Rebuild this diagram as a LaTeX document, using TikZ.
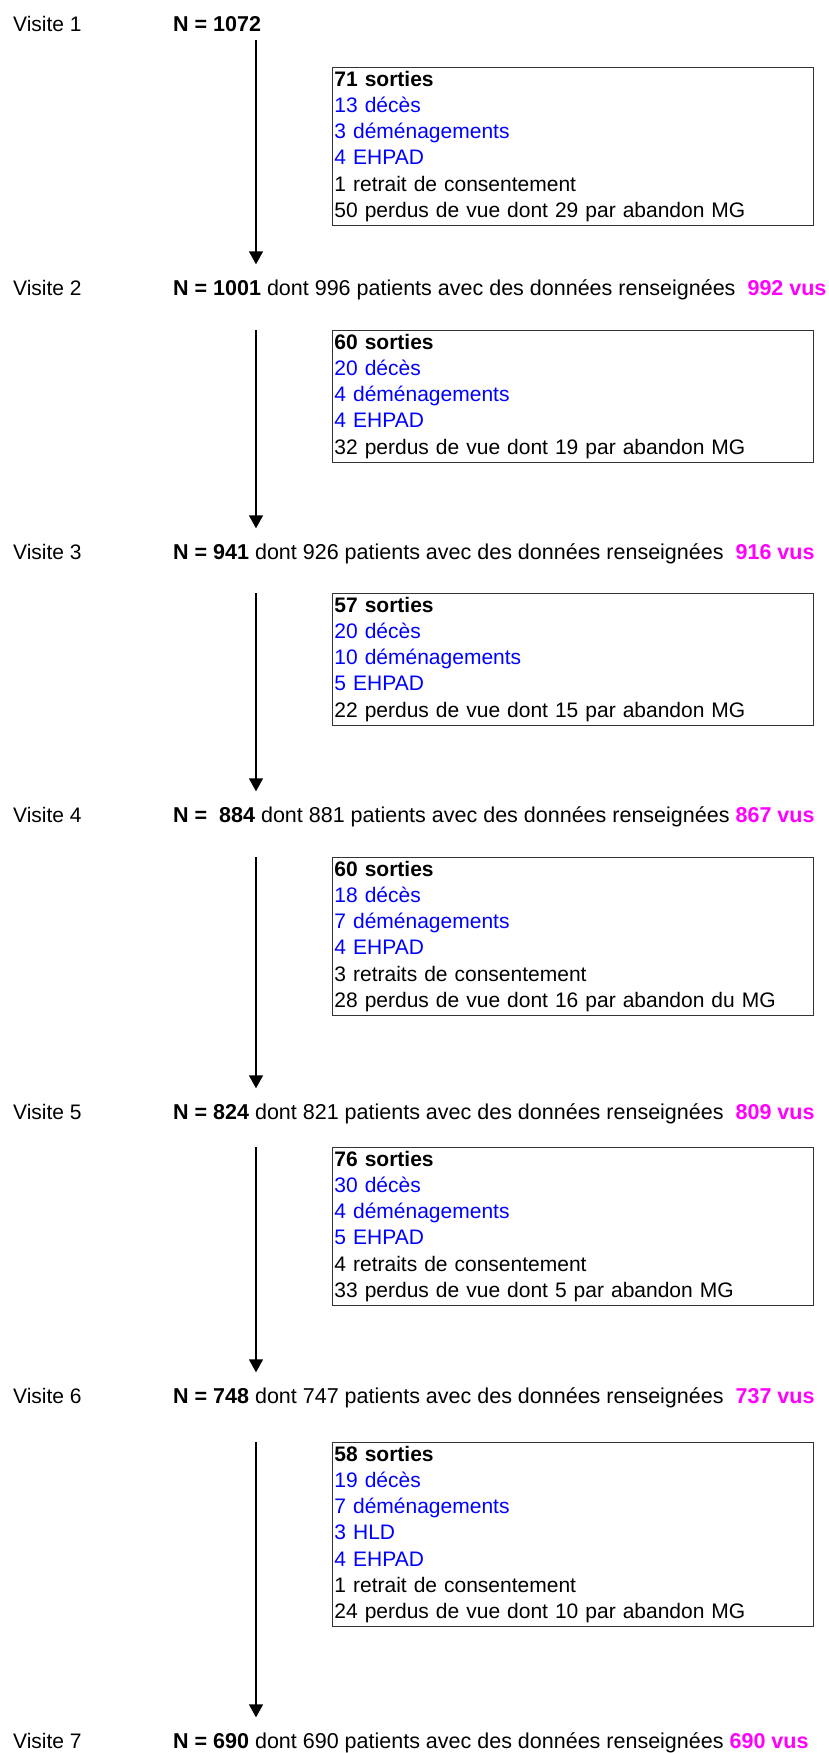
\documentclass[tikz,border=0pt]{standalone}
\usepackage{fontspec}
\setmainfont{Liberation Sans}
\usetikzlibrary{arrows.meta}
\definecolor{ExitBlue}{RGB}{0,0,255}
\definecolor{SeenPink}{RGB}{255,0,255}
\tikzset{
  visit/.style={anchor=base west,inner xsep=0pt,inner ysep=3pt,
                text height=15pt,text depth=4.5pt},
  count/.style={visit,font=\fontsize{21.5}{26.3}\selectfont},
  exits/.style={draw=black!80,line width=0.9pt,anchor=north west,align=left,
                text width=477pt,inner xsep=2pt,inner ysep=2pt,
                minimum height=#1*26.3pt},
  flow/.style={-{Triangle[length=13pt,width=14pt]},line width=1.4pt,
               shorten >=12.5pt},
}
\newcommand{\bluetxt}[1]{\textcolor{ExitBlue}{#1}}
\newcommand{\seentxt}[1]{\textcolor{SeenPink}{\textbf{#1}}}

\begin{document}
\begin{tikzpicture}[x=1pt,y=-1pt,font=\fontsize{21}{26.3}\selectfont]
  \useasboundingbox (0,0) rectangle (828,1753);
  \coordinate (ax) at (256,0);
  % visite 1
  \node[visit] (v1) at (13,32) {Visite 1};
  \node[count] (n1) at (173,32) {\textbf{N = 1072}};
  \node[exits=6] (s1) at (332,67) {\textbf{71 sorties}\\
    \bluetxt{13 décès}\\ \bluetxt{3 déménagements}\\ \bluetxt{4 EHPAD}\\
    1 retrait de consentement\\ 50 perdus de vue dont 29 par abandon MG};
  % visite 2
  \node[visit] (v2) at (13,295) {Visite 2};
  \node[count] (n2) at (173,295) {\textbf{N = 1001} dont 996 patients avec des données renseignées~ \seentxt{992 vus}};
  \node[exits=5] (s2) at (332,330) {\textbf{60 sorties}\\
    \bluetxt{20 décès}\\ \bluetxt{4 déménagements}\\ \bluetxt{4 EHPAD}\\
    32 perdus de vue dont 19 par abandon MG};
  % visite 3
  \node[visit] (v3) at (13,559) {Visite 3};
  \node[count] (n3) at (173,559) {\textbf{N = 941} dont 926 patients avec des données renseignées~ \seentxt{916 vus}};
  \node[exits=5] (s3) at (332,593) {\textbf{57 sorties}\\
    \bluetxt{20 décès}\\ \bluetxt{10 déménagements}\\ \bluetxt{5 EHPAD}\\
    22 perdus de vue dont 15 par abandon MG};
  % visite 4
  \node[visit] (v4) at (13,822) {Visite 4};
  \node[count] (n4) at (173,822) {\textbf{N =~ 884} dont 881 patients avec des données renseignées \seentxt{867 vus}};
  \node[exits=6] (s4) at (332,857) {\textbf{60 sorties}\\
    \bluetxt{18 décès}\\ \bluetxt{7 déménagements}\\ \bluetxt{4 EHPAD}\\
    3 retraits de consentement\\ 28 perdus de vue dont 16 par abandon du MG};
  % visite 5
  \node[visit] (v5) at (13,1119) {Visite 5};
  \node[count] (n5) at (173,1119) {\textbf{N = 824} dont 821 patients avec des données renseignées~ \seentxt{809 vus}};
  \node[exits=6] (s5) at (332,1147) {\textbf{76 sorties}\\
    \bluetxt{30 décès}\\ \bluetxt{4 déménagements}\\ \bluetxt{5 EHPAD}\\
    4 retraits de consentement\\ 33 perdus de vue dont 5 par abandon MG};
  % visite 6
  \node[visit] (v6) at (13,1403) {Visite 6};
  \node[count] (n6) at (173,1403) {\textbf{N = 748} dont 747 patients avec des données renseignées~ \seentxt{737 vus}};
  \node[exits=7] (s6) at (332,1442) {\textbf{58 sorties}\\
    \bluetxt{19 décès}\\ \bluetxt{7 déménagements}\\ \bluetxt{3 HLD}\\ \bluetxt{4 EHPAD}\\
    1 retrait de consentement\\ 24 perdus de vue dont 10 par abandon MG};
  % visite 7
  \node[visit] (v7) at (13,1748) {Visite 7};
  \node[count] (n7) at (173,1748) {\textbf{N = 690} dont 690 patients avec des données renseignées \seentxt{690 vus}};
  % fleches
  \draw[flow] (ax |- n1.south) -- (ax |- n2.north);
  \draw[flow] (ax |- s2.north) -- (ax |- n3.north);
  \draw[flow] (ax |- s3.north) -- (ax |- n4.north);
  \draw[flow] (ax |- s4.north) -- (ax |- n5.north);
  \draw[flow] (ax |- s5.north) -- (ax |- n6.north);
  \draw[flow] (ax |- s6.north) -- (ax |- n7.north);
\end{tikzpicture}
\end{document}
